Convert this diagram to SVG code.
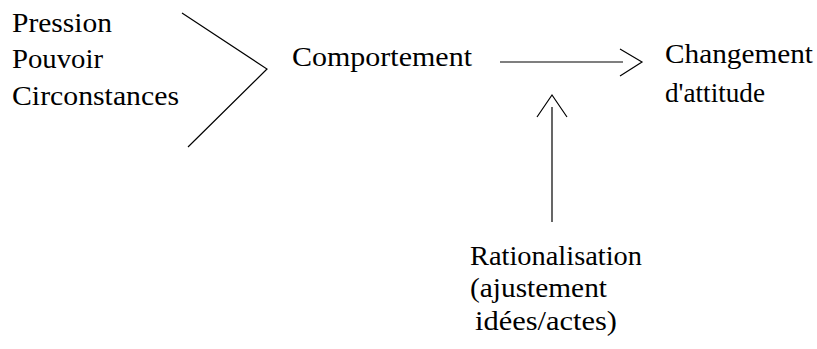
<svg xmlns="http://www.w3.org/2000/svg" width="817" height="349" viewBox="0 0 817 349">
<style>
.c{stroke:#000;stroke-width:1.2;fill:none}
</style>
<rect width="817" height="349" fill="#fff"/>
<g font-family="Liberation Serif, Times New Roman, DejaVu Serif, serif" font-size="28" fill="#000">
<g id="causes">
<text x="12" y="32" textLength="100" lengthAdjust="spacingAndGlyphs">Pression</text>
<text x="12" y="68" textLength="91" lengthAdjust="spacingAndGlyphs">Pouvoir</text>
<text x="12" y="105" textLength="167" lengthAdjust="spacingAndGlyphs">Circonstances</text>
</g>
<g id="comportement">
<text x="292" y="66" textLength="180" lengthAdjust="spacingAndGlyphs">Comportement</text>
</g>
<g id="changement">
<text x="665" y="63" textLength="148" lengthAdjust="spacingAndGlyphs">Changement</text>
<text x="665" y="102" textLength="100" lengthAdjust="spacingAndGlyphs">d'attitude</text>
</g>
<g id="rationalisation">
<text x="470" y="265" textLength="172" lengthAdjust="spacingAndGlyphs">Rationalisation</text>
<text x="470" y="297" textLength="137" lengthAdjust="spacingAndGlyphs">(ajustement</text>
<text x="475" y="330" textLength="142" lengthAdjust="spacingAndGlyphs">idées/actes)</text>
</g>
</g>
<g id="connectors">
<polyline class="c" points="182,13 267,69 188,147"/>
<line class="c" x1="500" y1="62" x2="623" y2="62"/>
<polyline class="c" points="620,49 642,62 620,76"/>
<line class="c" x1="552" y1="107" x2="552" y2="222"/>
<polyline class="c" points="537,117 552,95 567,117"/>
</g>
</svg>
